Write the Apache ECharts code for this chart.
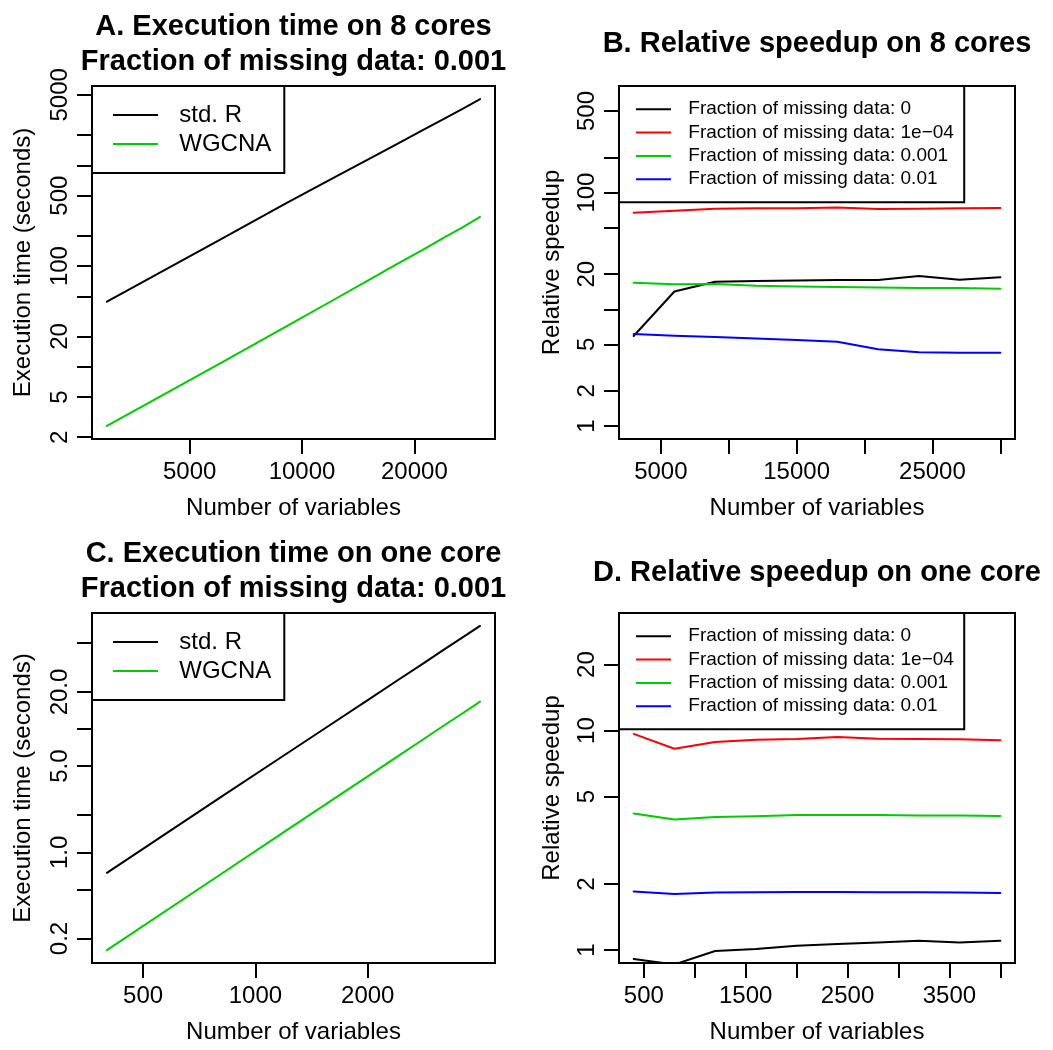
<!DOCTYPE html>
<html><head><meta charset="utf-8">
<script src="https://cdn.jsdelivr.net/npm/echarts@6/dist/echarts.min.js"></script>
<style>html,body{margin:0;padding:0;background:#fff}#c{width:1053px;height:1050px}</style>
</head><body><div id="c"></div>
<script>
// ---------- data ----------
const nVars8 = [3000, 6000, 9000, 12000, 15000, 18000, 21000, 24000, 27000, 30000];
const timeStdR8 = [44.3, 181, 413, 732, 1138, 1636, 2222, 2890, 3647, 4540];
const timeWGCNA8 = [2.59, 10.7, 24.8, 45, 71.6, 105, 144, 191, 243, 307];

const speed0_8   = [5.9, 14.2, 17.2, 17.5, 17.6, 17.8, 17.8, 19.3, 17.9, 18.8];
const speed1e4_8 = [67.3, 70, 72.8, 73.3, 73.3, 74.3, 72.3, 72.8, 73.3, 73.8];
const speed1e3_8 = [16.9, 16.4, 16.5, 15.9, 15.7, 15.5, 15.4, 15.2, 15.2, 15.0];
const speed1e2_8 = [6.14, 5.94, 5.79, 5.62, 5.46, 5.28, 4.54, 4.28, 4.25, 4.25];

const nVars1 = [400, 800, 1200, 1600, 2000, 2400, 2800, 3200, 3600, 4000];
const timeStdR1 = [0.682, 2.75, 6.19, 11.0, 17.2, 24.8, 33.7, 44.1, 55.7, 68.7];
const timeWGCNA1 = [0.161, 0.652, 1.48, 2.64, 4.13, 5.97, 8.15, 10.7, 13.5, 16.7];

const speed0_1   = [0.91, 0.86, 0.99, 1.01, 1.046, 1.065, 1.083, 1.103, 1.083, 1.103];
const speed1e4_1 = [9.66, 8.27, 8.88, 9.09, 9.16, 9.36, 9.19, 9.16, 9.13, 9.04];
const speed1e3_1 = [4.19, 3.93, 4.04, 4.07, 4.13, 4.13, 4.13, 4.10, 4.10, 4.08];
const speed1e2_1 = [1.85, 1.80, 1.83, 1.835, 1.84, 1.84, 1.835, 1.835, 1.83, 1.82];

const fractionNames = ['Fraction of missing data: 0', 'Fraction of missing data: 1e\u221204',
                       'Fraction of missing data: 0.001', 'Fraction of missing data: 0.01'];
const methodNames = ['std. R', 'WGCNA'];

// ticks / labels
const ticksTimeX8 = [5000, 10000, 20000];
const labelsTimeX8 = ['5000', '10000', '20000'];
const ticksTimeY8 = [2, 5, 10, 20, 50, 100, 200, 500, 1000, 2000, 5000];
const labelValsTimeY8 = [2, 5, 20, 100, 500, 5000];
const labelsTimeY8 = ['2', '5', '20', '100', '500', '5000'];

const ticksSpeedX8 = [5000, 10000, 15000, 20000, 25000, 30000];
const labelsSpeedX8 = [5000, 15000, 25000];
const ticksSpeedY8 = [1, 2, 5, 10, 20, 50, 100, 200, 500];
const labelValsSpeedY8 = [1, 2, 5, 20, 100, 500];
const labelsSpeedY8 = ['1', '2', '5', '20', '100', '500'];

const ticksTimeX1 = [500, 1000, 2000];
const labelsTimeX1 = ['500', '1000', '2000'];
const ticksTimeY1 = [0.2, 0.5, 1, 2, 5, 10, 20, 50];
const labelValsTimeY1 = [0.2, 1, 5, 20];
const labelsTimeY1 = ['0.2', '1.0', '5.0', '20.0'];

const ticksSpeedX1 = [500, 1000, 1500, 2000, 2500, 3000, 3500, 4000];
const labelsSpeedX1 = [500, 1500, 2500, 3500];
const ticksSpeedY1 = [1, 2, 5, 10, 20];
const labelValsSpeedY1 = [1, 2, 5, 10, 20];
const labelsSpeedY1 = ['1', '2', '5', '10', '20'];

// ---------- helpers ----------
const FONT = '"Liberation Sans", Arial, Helvetica, sans-serif';
const L = Math.log10;
const COLORS = ['#000000', '#FF0000', '#00CD00', '#0000FF'];

function logFmt(vals, texts) {
  return function (v) {
    for (let i = 0; i < vals.length; i++) if (Math.abs(L(vals[i]) - v) < 1e-6) return texts[i];
    return '';
  };
}
function linFmt(vals) {
  return function (v) { return vals.indexOf(Math.round(v)) >= 0 ? String(Math.round(v)) : ''; };
}
function xAxis(gi, min, max, ticks, labelVals, fmt) {
  return {
    type: 'value', gridIndex: gi, position: 'bottom', min: min, max: max,
    axisLine: { show: false, onZero: false }, splitLine: { show: false },
    axisTick: { show: true, inside: false, length: 15, lineStyle: { color: '#000', width: 2 }, customValues: ticks },
    axisLabel: { show: true, fontSize: 24, fontFamily: FONT, color: '#000', margin: 21, customValues: labelVals, formatter: fmt },
    name: 'Number of variables', nameLocation: 'middle', nameGap: 57,
    nameTextStyle: { fontSize: 24, fontFamily: FONT, color: '#000' }
  };
}
function yAxis(gi, min, max, ticks, labelVals, fmt, name, gap) {
  return {
    type: 'value', gridIndex: gi, position: 'left', min: min, max: max,
    axisLine: { show: false, onZero: false }, splitLine: { show: false },
    axisTick: { show: true, inside: false, length: 15, lineStyle: { color: '#000', width: 2 }, customValues: ticks },
    axisLabel: { show: true, fontSize: 24, fontFamily: FONT, color: '#000', margin: 20, rotate: 90, customValues: labelVals, formatter: fmt },
    name: name, nameLocation: 'middle', nameGap: gap, nameRotate: 90,
    nameTextStyle: { fontSize: 24, fontFamily: FONT, color: '#000' }
  };
}
function lineSeries(name, gi, xs, ys, logX, color) {
  return {
    type: 'line', name: name, xAxisIndex: gi, yAxisIndex: gi,
    data: xs.map((x, i) => [logX ? L(x) : x, L(ys[i])]),
    symbol: 'none', clip: true, silent: true,
    lineStyle: { color: color, width: 2, join: 'round', cap: 'round' },
    itemStyle: { color: color }
  };
}
function title(text, cx, top) {
  return {
    text: text, left: cx, top: top, textAlign: 'center', textVerticalAlign: 'top', padding: 0,
    textStyle: { fontSize: 29, fontWeight: 'bold', fontFamily: FONT, color: '#000', lineHeight: 34.8 }
  };
}
function legend(names, left, top, big) {
  return {
    orient: 'vertical', left: left, top: top, data: names, icon: 'rect',
    itemWidth: big ? 45 : 35, itemHeight: 2, itemGap: 0,
    padding: big ? [14.5, 13, 14.5, 21] : [11.6, 10.3, 11.3, 17],
    borderColor: '#000', borderWidth: 2, backgroundColor: '#fff', selectedMode: false,
    textStyle: { fontSize: big ? 24 : 19, fontFamily: FONT, color: '#000',
                 lineHeight: big ? 29 : 23.33, padding: [0, 0, 0, big ? 16.3 : 12.3] }
  };
}

const grids = [
  { left: 92, top: 86, width: 403, height: 353 },
  { left: 619, top: 86, width: 396, height: 353 },
  { left: 92, top: 613, width: 403, height: 350 },
  { left: 619, top: 613, width: 396, height: 350 }
].map(g => Object.assign(g, { show: true, borderColor: '#000', borderWidth: 2, backgroundColor: 'transparent', containLabel: false }));

const option = {
  animation: false,
  backgroundColor: '#fff',
  title: [
    title('A. Execution time on 8 cores\nFraction of missing data: 0.001', 293.5, 9.5),
    title('B. Relative speedup on 8 cores', 817, 27),
    title('C. Execution time on one core\nFraction of missing data: 0.001', 293.5, 537),
    title('D. Relative speedup on one core', 817, 555.3)
  ],
  legend: [
    legend(methodNames, 92, 86, true),
    legend(fractionNames, 619, 86, false),
    legend(methodNames, 92, 613, true),
    legend(fractionNames, 619, 613, false)
  ],
  grid: grids,
  xAxis: [
    xAxis(0, 3.4371, 4.5171, ticksTimeX8.map(L), ticksTimeX8.map(L), logFmt(ticksTimeX8, labelsTimeX8)),
    xAxis(1, 1920, 31080, ticksSpeedX8, labelsSpeedX8, linFmt(labelsSpeedX8)),
    xAxis(2, 2.5621, 3.6421, ticksTimeX1.map(L), ticksTimeX1.map(L), logFmt(ticksTimeX1, labelsTimeX1)),
    xAxis(3, 256, 4144, ticksSpeedX1, labelsSpeedX1, linFmt(labelsSpeedX1))
  ],
  yAxis: [
    yAxis(0, 0.2836, 3.787, ticksTimeY8.map(L), labelValsTimeY8.map(L), logFmt(labelValsTimeY8, labelsTimeY8), 'Execution time (seconds)', 57),
    yAxis(1, -0.1114, 2.913, ticksSpeedY8.map(L), labelValsSpeedY8.map(L), logFmt(labelValsSpeedY8, labelsSpeedY8), 'Relative speedup', 55),
    yAxis(2, -0.898, 1.942, ticksTimeY1.map(L), labelValsTimeY1.map(L), logFmt(labelValsTimeY1, labelsTimeY1), 'Execution time (seconds)', 57),
    yAxis(3, -0.0591, 1.536, ticksSpeedY1.map(L), labelValsSpeedY1.map(L), logFmt(labelValsSpeedY1, labelsSpeedY1), 'Relative speedup', 55)
  ],
  series: [
    lineSeries(methodNames[0], 0, nVars8, timeStdR8, true, COLORS[0]),
    lineSeries(methodNames[1], 0, nVars8, timeWGCNA8, true, COLORS[2]),
    lineSeries(fractionNames[0], 1, nVars8, speed0_8, false, COLORS[0]),
    lineSeries(fractionNames[1], 1, nVars8, speed1e4_8, false, COLORS[1]),
    lineSeries(fractionNames[2], 1, nVars8, speed1e3_8, false, COLORS[2]),
    lineSeries(fractionNames[3], 1, nVars8, speed1e2_8, false, COLORS[3]),
    lineSeries(methodNames[0], 2, nVars1, timeStdR1, true, COLORS[0]),
    lineSeries(methodNames[1], 2, nVars1, timeWGCNA1, true, COLORS[2]),
    lineSeries(fractionNames[0], 3, nVars1, speed0_1, false, COLORS[0]),
    lineSeries(fractionNames[1], 3, nVars1, speed1e4_1, false, COLORS[1]),
    lineSeries(fractionNames[2], 3, nVars1, speed1e3_1, false, COLORS[2]),
    lineSeries(fractionNames[3], 3, nVars1, speed1e2_1, false, COLORS[3])
  ]
};
const chart = echarts.init(document.getElementById('c'), null, { renderer: 'canvas' });
chart.setOption(option);
</script>
</body></html>
